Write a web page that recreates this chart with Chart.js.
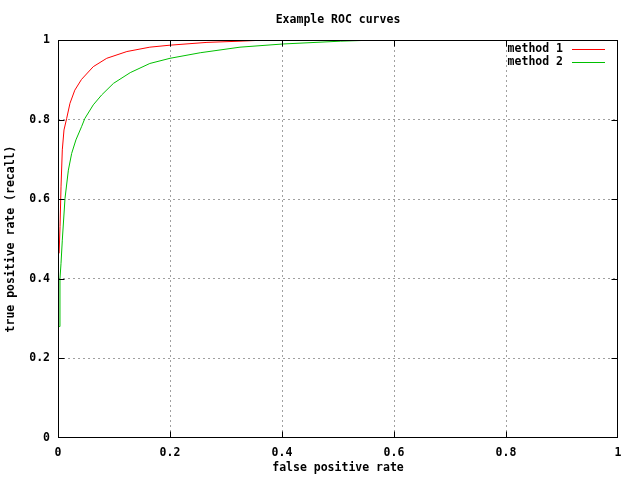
<!DOCTYPE html>
<html>
<head>
<meta charset="utf-8">
<script src="https://cdn.jsdelivr.net/npm/chart.js@4/dist/chart.umd.min.js"></script>
<style>
  html, body { margin: 0; padding: 0; background: #fff; }
  canvas { display: block; }
</style>
</head>
<body>
<canvas id="rocChart" width="640" height="480"></canvas>
<script>
let fprMethod1 = [0.002, 0.0036, 0.0054, 0.0077, 0.0107, 0.0155, 0.0214, 0.030, 0.042, 0.063, 0.087, 0.123, 0.164, 0.2, 0.266, 0.325, 0.373, 0.51];
let tprMethod1 = [0.464, 0.531, 0.631, 0.724, 0.774, 0.803, 0.841, 0.874, 0.901, 0.933, 0.954, 0.971, 0.982, 0.987, 0.994, 0.997, 1.0, 1.0];
let fprMethod2 = [0.002, 0.0035, 0.0054, 0.0077, 0.0125, 0.0185, 0.0244, 0.032, 0.042, 0.048, 0.063, 0.078, 0.099, 0.129, 0.164, 0.2, 0.254, 0.325, 0.402, 0.504, 0.569, 0.70];
let tprMethod2 = [0.28, 0.40, 0.439, 0.497, 0.602, 0.673, 0.715, 0.749, 0.782, 0.803, 0.837, 0.862, 0.891, 0.918, 0.941, 0.954, 0.968, 0.982, 0.990, 0.997, 1.0, 1.0];
let seriesNames = ["method 1", "method 2"];
let tickValues = [0, 0.2, 0.4, 0.6, 0.8, 1];
let tickLabels = ["0", "0.2", "0.4", "0.6", "0.8", "1"];

let monoFont = "'DejaVu Sans Mono', 'Liberation Mono', monospace";

function toPoints(xs, ys) {
  return xs.map((x, i) => ({ x: x, y: ys[i] }));
}

// gnuplot-ish frame: title, box border, inward ticks on all sides, legend
let gnuplotLook = {
  id: "gnuplotLook",
  afterDatasetsDraw(chart) {
    let ctx = chart.ctx;
    let a = chart.chartArea;
    let xs = chart.scales.x;
    let ys = chart.scales.y;
    let l = a.left + 0.5, r = a.right - 0.5, t = a.top + 0.5, b = a.bottom - 0.5;
    let clamp = (v, lo, hi) => Math.min(hi, Math.max(lo, v));
    ctx.save();
    ctx.strokeStyle = "#000";
    ctx.lineWidth = 1;
    ctx.strokeRect(l, t, r - l, b - t);
    ctx.beginPath();
    tickValues.forEach(v => {
      let px = clamp(Math.round(xs.getPixelForValue(v)) + 0.5, l, r);
      ctx.moveTo(px, b); ctx.lineTo(px, b - 6);
      ctx.moveTo(px, t); ctx.lineTo(px, t + 6);
      let py = clamp(Math.round(ys.getPixelForValue(v)) + 0.5, t, b);
      ctx.moveTo(l, py); ctx.lineTo(l + 6, py);
      ctx.moveTo(r, py); ctx.lineTo(r - 6, py);
    });
    ctx.stroke();

    ctx.fillStyle = "#000";
    ctx.font = "bold 11.5px " + monoFont;
    ctx.textBaseline = "middle";
    ctx.textAlign = "center";
    ctx.fillText("Example ROC curves", (a.left + a.right) / 2, 20);

    ctx.textAlign = "right";
    chart.data.datasets.forEach((ds, i) => {
      let y = 49 + i * 13;
      ctx.fillStyle = "#000";
      ctx.fillText(ds.label, a.right - 55, y);
      ctx.strokeStyle = ds.borderColor;
      ctx.beginPath();
      ctx.moveTo(a.right - 46, Math.round(y) + 0.5);
      ctx.lineTo(a.right - 13, Math.round(y) + 0.5);
      ctx.stroke();
    });
    ctx.restore();
  }
};

let gridColor = ctx => (ctx.tick && (ctx.tick.value === 0 || ctx.tick.value === 1)) ? "rgba(0,0,0,0)" : "#a0a0a0";
let tickText = (value) => tickLabels[tickValues.indexOf(value)] ?? String(value);

let rocChart = new Chart(document.getElementById("rocChart").getContext("2d"), {
  type: "line",
  data: {
    datasets: [
      {
        label: seriesNames[0],
        data: toPoints(fprMethod1, tprMethod1),
        borderColor: "rgb(255,0,0)",
        borderWidth: 1,
        pointRadius: 0,
        tension: 0,
        fill: false,
      },
      {
        label: seriesNames[1],
        data: toPoints(fprMethod2, tprMethod2),
        borderColor: "rgb(0,192,0)",
        borderWidth: 1,
        pointRadius: 0,
        tension: 0,
        fill: false,
      },
    ],
  },
  options: {
    responsive: false,
    animation: false,
    devicePixelRatio: 1,
    layout: { padding: { top: 40, right: 22, left: 0, bottom: 0 } },
    plugins: {
      legend: { display: false },
      title: { display: false },
      tooltip: { enabled: false },
    },
    scales: {
      x: {
        type: "linear",
        min: 0,
        max: 1,
        afterFit: s => { s.height = 42; },
        afterBuildTicks: s => { s.ticks = tickValues.map(v => ({ value: v })); },
        ticks: {
          color: "#000",
          padding: 8,
          maxRotation: 0,
          callback: tickText,
          font: { family: monoFont, size: 11.5, weight: "bold" },
        },
        grid: { drawTicks: false, color: gridColor, lineWidth: 1 },
        border: { display: false, dash: [2, 3] },
        title: {
          display: true,
          text: "false positive rate",
          color: "#000",
          padding: { top: 0, bottom: 5 },
          font: { family: monoFont, size: 11.5, weight: "bold" },
        },
      },
      y: {
        type: "linear",
        min: 0,
        max: 1,
        afterFit: s => { s.width = 58; },
        afterBuildTicks: s => { s.ticks = tickValues.map(v => ({ value: v })); },
        ticks: {
          color: "#000",
          padding: 8,
          callback: tickText,
          font: { family: monoFont, size: 11.5, weight: "bold" },
        },
        grid: { drawTicks: false, color: gridColor, lineWidth: 1 },
        border: { display: false, dash: [2, 3] },
        title: {
          display: true,
          text: "true positive rate (recall)",
          color: "#000",
          padding: { top: 4, bottom: 0 },
          font: { family: monoFont, size: 11.5, weight: "bold" },
        },
      },
    },
  },
  plugins: [gnuplotLook],
});
</script>
</body>
</html>
